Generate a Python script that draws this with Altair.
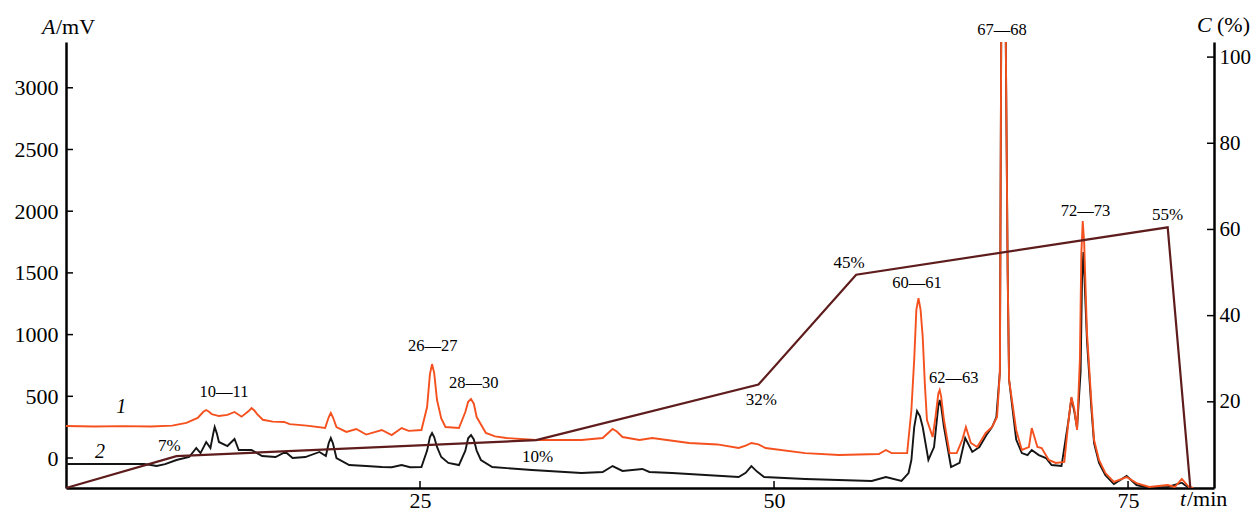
import altair as alt
import pandas as pd

# ---------------- data ----------------
# trace 1 (orange)
t1 = [0, 2, 4, 6, 7.5, 8.5, 9.3, 9.7, 9.9, 10.1, 10.3, 10.8, 11.4, 11.9, 12.4, 12.9, 13.1, 13.3,
      13.5, 13.9, 14.6, 15.4, 15.8, 17.0, 18.3, 18.55, 18.7, 18.85, 19.1, 19.8, 20.5, 21.2,
      22.3, 23.0, 23.7, 24.2, 25.1, 25.5, 25.7, 25.85, 26.0, 26.2, 26.5, 26.8, 27.75, 28.2,
      28.4, 28.6, 28.8, 29.0, 29.65, 30.3, 31.1, 33.2, 36.4, 37.9, 38.4, 38.6, 38.9, 39.3,
      40.5, 41.4, 44.0, 46.0, 47.5, 48.0, 48.4, 48.9, 49.4, 52.2, 54.6, 57.4, 57.9, 58.3,
      59.4, 59.7, 59.9, 60.05, 60.2, 60.35, 60.5, 60.65, 60.8, 61.2, 61.4, 61.6, 61.7, 61.8,
      62.0, 62.4, 62.9, 63.3, 63.55, 63.9, 64.35, 64.95, 65.4, 65.75, 65.95, 66.05, 66.35,
      66.5, 66.6, 67.1, 67.5, 68.0, 68.2, 68.6, 68.9, 69.4, 69.9, 70.5, 70.8, 71.0, 71.2,
      71.4, 71.6, 71.7, 71.8, 71.9, 72.1, 72.4, 72.6, 72.95, 73.4, 74.0, 74.9, 75.6, 76.5,
      77.8, 78.3, 78.8, 79.3, 79.6]
a1 = [259, 255, 258, 255, 262, 285, 325, 375, 389, 375, 355, 340, 350, 373, 335, 380, 405, 385,
      355, 310, 295, 292, 275, 262, 243, 330, 365, 330, 250, 211, 235, 190,
      227, 186, 243, 220, 227, 413, 680, 761, 690, 470, 320, 251, 243, 373,
      455, 478, 440, 332, 203, 175, 162, 146, 146, 162, 215, 235, 215, 170,
      146, 162, 122, 110, 81, 100, 122, 110, 81, 40, 24, 32, 65, 40,
      40, 389, 800, 1200, 1296, 1200, 980, 600, 308, 170, 330, 520, 551, 500,
      308, 40, 40, 150, 251, 122, 89, 203, 251, 332, 700, 3600, 3600,
      1500, 632, 227, 65, 89, 243, 89, 81, -16, -40, -32, 308, 494, 400,
      227, 800, 1650, 1920, 1750, 1013, 470, 146, -16, -122, -194, -154, -203, -235,
      -219, -235, -170, -235, -243]

# trace 2 (black)
t2 = [0, 5.5, 6.0, 6.4, 7.0, 7.8, 8.7, 9.2, 9.5, 9.9, 10.2, 10.4, 10.5, 10.65, 10.8, 11.4,
      11.9, 12.2, 13.1, 13.85, 14.8, 15.5, 16.0, 16.9, 17.9, 18.35, 18.55, 18.7, 18.85, 19.1,
      20.0, 21.2, 22.3, 23.0, 23.7, 24.3, 25.1, 25.5, 25.7, 25.85, 26.0, 26.2, 26.5, 27.0,
      27.75, 28.2, 28.4, 28.6, 28.8, 29.0, 29.3, 30.1, 32.9, 36.4, 37.9, 38.6, 39.3, 40.7,
      41.2, 42.8, 47.5, 48.0, 48.4, 48.8, 49.3, 52.2, 56.9, 57.9, 59.0, 59.5, 59.7, 59.9,
      60.1, 60.3, 60.5, 60.9, 61.3, 61.6, 61.7, 61.8, 62.0, 62.5, 63.1, 63.5, 64.0, 64.5,
      65.0, 65.4, 65.7, 65.95, 66.05, 66.35, 66.5, 66.6, 67.1, 67.5, 67.9, 68.2, 68.7, 69.2,
      69.6, 70.3, 70.8, 71.0, 71.2, 71.4, 71.65, 71.75, 71.85, 72.1, 72.4, 72.6, 72.95, 73.4,
      74.0, 74.9, 75.6, 76.5, 77.8, 78.8, 79.3]
a2 = [-49, -49, -57, -65, -50, -16, 8, 81, 40, 130, 81, 200, 251, 200, 130, 97,
      154, 65, 65, 16, 8, 49, 0, 8, 49, 16, 120, 162, 120, 0,
      -57, -65, -73, -75, -57, -75, -73, 60, 170, 203, 170, 90, 8, -40,
      -57, 60, 160, 186, 150, 60, -16, -73, -97, -122, -113, -65, -105, -89,
      -113, -122, -154, -120, -65, -110, -154, -170, -186, -154, -186, -122, -16, 250,
      381, 340, 251, -16, 89, 420, 470, 420, 251, -73, -40, 162, 49, 89,
      186, 251, 332, 700, 3600, 3600, 1500, 632, 150, 40, 24, 65, 24, 0,
      -57, -65, 308, 486, 380, 243, 700, 1450, 1669, 950, 420, 120, -40, -140,
      -211, -146, -219, -243, -235, -200, -243]

# gradient C (%)
grad_t = [0, 7.8, 33.2, 48.9, 55.8, 77.8, 79.4]
grad_c = [0, 7.4, 11.1, 24.0, 49.5, 60.5, 0]

# annotations
peak_text = ["10\u201411", "26\u201427", "28\u201430", "60\u201461", "62\u201463", "67\u201468", "72\u201473"]
peak_t = [11.16, 25.9, 28.8, 60.1, 62.7, 66.1, 72.0]
peak_a = [535, 907, 608, 1418, 648, 3467, 2001]

pct_text = ["7%", "10%", "32%", "45%", "55%"]
pct_t = [7.3, 33.3, 49.1, 55.3, 77.8]
pct_c = [9.7, 7.2, 20.4, 52.3, 63.4]

curve_text = ["1", "2"]
curve_t = [3.9, 2.4]
curve_a = [413, 49]

a_ticks = [0, 500, 1000, 1500, 2000, 2500, 3000]
c_ticks = [20, 40, 60, 80, 100]
t_ticks = [25, 50, 75]

# ---------------- chart ----------------
W, H = 1148, 446
FONT = "Liberation Serif"
ORANGE = "#F4511E"
BLACK = "#151515"
MAROON = "#5e1c1c"

xs = alt.Scale(domain=[0, 81.07], nice=False, zero=False)
ys_a = alt.Scale(domain=[-243, 3371], nice=False, zero=False)
ys_c = alt.Scale(domain=[0, 103.5], nice=False, zero=False)

x_axis = alt.Axis(values=t_ticks, title=None, ticks=False, grid=False, format="d",
                  labelFont=FONT, labelFontSize=22, labelColor="black", labelPadding=2,
                  domainColor="black", domainWidth=2.5)
a_axis = alt.Axis(values=a_ticks, title=None, orient="left", ticks=False, grid=False, format="d",
                  labelFont=FONT, labelFontSize=22, labelColor="black", labelPadding=8,
                  domainColor="black", domainWidth=2.5)
c_axis = alt.Axis(values=c_ticks, title=None, orient="right", ticks=False, grid=False, format="d",
                  labelFont=FONT, labelFontSize=21, labelColor="black", labelPadding=5,
                  domainColor="black", domainWidth=2.5)


def X():
    return alt.X("t:Q", scale=xs, axis=x_axis)


df1 = pd.DataFrame({"t": t1, "a": a1})
df2 = pd.DataFrame({"t": t2, "a": a2})
dfg = pd.DataFrame({"t": grad_t, "c": grad_c})
dfp = pd.DataFrame({"t": peak_t, "a": peak_a, "s": peak_text})
dfpc = pd.DataFrame({"t": pct_t, "c": pct_c, "s": pct_text})
dfcv = pd.DataFrame({"t": curve_t, "a": curve_a, "s": curve_text})

black = alt.Chart(df2).mark_line(color=BLACK, strokeWidth=1.9, clip=True).encode(
    x=X(), y=alt.Y("a:Q", scale=ys_a, axis=a_axis),
)
orange = alt.Chart(df1).mark_line(color=ORANGE, strokeWidth=1.9, clip=True).encode(
    x=X(), y=alt.Y("a:Q", scale=ys_a, axis=None),
)
grad = alt.Chart(dfg).mark_line(color=MAROON, strokeWidth=2.2).encode(
    x=X(), y=alt.Y("c:Q", scale=ys_c, axis=c_axis),
)
peaks = alt.Chart(dfp).mark_text(font=FONT, fontSize=16.5, color="black").encode(
    x=X(), y=alt.Y("a:Q", scale=ys_a, axis=None), text="s:N",
)
curves = alt.Chart(dfcv).mark_text(font=FONT, fontSize=20, fontStyle="italic", color="black").encode(
    x=X(), y=alt.Y("a:Q", scale=ys_a, axis=None), text="s:N",
)
pcts = alt.Chart(dfpc).mark_text(font=FONT, fontSize=17, color="black").encode(
    x=X(), y=alt.Y("c:Q", scale=ys_c, axis=None), text="s:N",
)
a_tickmarks = alt.Chart(pd.DataFrame({"a": a_ticks})).mark_rule(color="black", strokeWidth=1.5).encode(
    y=alt.Y("a:Q", scale=ys_a, axis=None),
    x=alt.value(0), x2=alt.value(7),
)
c_tickmarks = alt.Chart(pd.DataFrame({"c": c_ticks})).mark_rule(color="black", strokeWidth=1.5).encode(
    y=alt.Y("c:Q", scale=ys_c, axis=None),
    x=alt.value(W - 7), x2=alt.value(W),
)
x_tickmarks = alt.Chart(pd.DataFrame({"t": t_ticks})).mark_rule(color="black", strokeWidth=1.5).encode(
    x=X(), y=alt.value(H), y2=alt.value(H - 7),
)


def label(s, x, y, italic=False, size=22):
    return alt.Chart(pd.DataFrame({"s": [s]})).mark_text(
        font=FONT, fontSize=size, fontStyle="italic" if italic else "normal",
        align="left", baseline="alphabetic", color="black",
    ).encode(text="s:N", x=alt.value(x), y=alt.value(y))


chart = alt.layer(
    black, orange, grad, peaks, curves, pcts, a_tickmarks, c_tickmarks, x_tickmarks,
    label("A", -24, -8, italic=True),
    label("/mV", -10, -8),
    label("C", 1131, -10, italic=True),
    label("(%)", 1151, -10),
    label("t", 1114, H + 18, italic=True),
    label("/min", 1121, H + 18),
).resolve_scale(y="independent").properties(
    width=W, height=H,
    padding={"left": 58, "top": 34, "right": 37, "bottom": 23},
    autosize=alt.AutoSizeParams(type="none"),
    background="white",
).configure_view(stroke=None)

chart.save("out.html", embed_options={"renderer": "svg", "actions": False})
